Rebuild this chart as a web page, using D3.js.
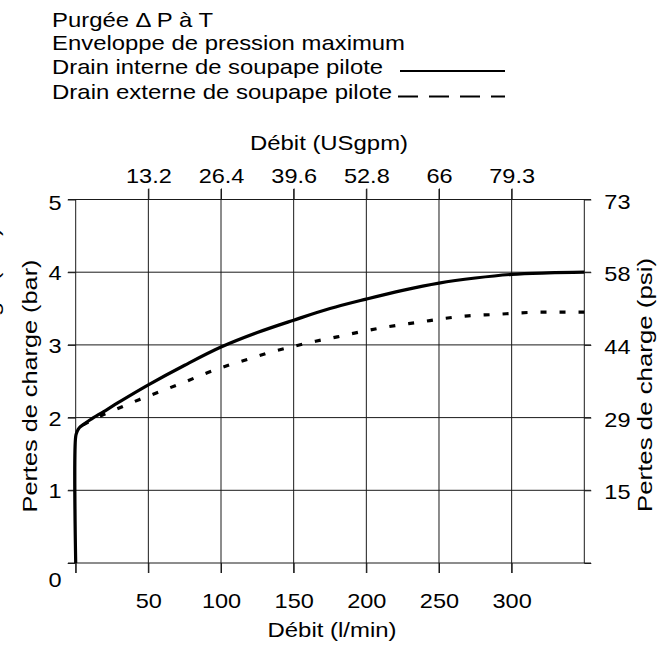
<!DOCTYPE html>
<html><head><meta charset="utf-8">
<script src="https://cdn.jsdelivr.net/npm/d3@7"></script>
<style>
body{margin:0;background:#fff}
svg{display:block}
text{font-family:"Liberation Sans",Arial,Helvetica,sans-serif;fill:#000}
</style>
</head><body>
<svg id="c" width="657" height="645"></svg>
<script>
// ---- data ----
const flowTicks = [0, 50, 100, 150, 200, 250, 300];
const flowLabels = ["", "50", "100", "150", "200", "250", "300"];
const gpmTicks = [50, 100, 150, 200, 250, 300];           // positions in l/min
const gpmLabels = ["13.2", "26.4", "39.6", "52.8", "66", "79.3"];
const barTicks = [0, 1, 2, 3, 4, 5];
const barLabels = ["0", "1", "2", "3", "4", "5"];
const psiLabels = ["", "15", "29", "44", "58", "73"];

const internalFlow = [0, 0, 1, 2.5, 5, 10, 19, 30, 50, 75, 100, 125, 150, 175, 200, 225, 250, 275, 300, 325, 350];
const internalBar  = [0, 1.74, 1.81, 1.86, 1.90, 1.97, 2.08, 2.215, 2.45, 2.72, 2.97, 3.17, 3.34, 3.50, 3.63, 3.75, 3.85, 3.92, 3.97, 3.99, 4.00];

const externalFlow = [5, 20, 32, 44, 57, 75, 91, 105, 118, 134, 150, 165, 180, 196, 212, 239, 252, 270, 290, 305, 321, 350];
const externalBar  = [1.90, 2.05, 2.15, 2.25, 2.35, 2.49, 2.62, 2.72, 2.80, 2.90, 2.98, 3.05, 3.11, 3.18, 3.24, 3.32, 3.36, 3.40, 3.42, 3.44, 3.45, 3.45];

const legendLabels = ["Purgée \u0394 P à T", "Enveloppe de pression maximum",
                      "Drain interne de soupape pilote", "Drain externe de soupape pilote"];
const legendWidths = [161, 353, 331, 340];

const xTitleBottom = "Débit (l/min)";
const xTitleTop = "Débit (USgpm)";
const yTitleLeft = "Pertes de charge (bar)";
const yTitleRight = "Pertes de charge (psi)";

// ---- setup ----
const svg = d3.select("#c");
const FS = 21, TICKSTRETCH = 1.12;
const x = d3.scaleLinear().domain([0, 350]).range([75.7, 584.3]);
const y = d3.scaleLinear().domain([0, 5]).range([563, 199.5]);

function fit(sel, target) {
  sel.each(function () {
    const w = this.getComputedTextLength();
    const tl = typeof target === "function" ? target(w) : target;
    d3.select(this).attr("textLength", tl).attr("lengthAdjust", "spacingAndGlyphs");
  });
}

// ---- grid ----
const grid = svg.append("g").attr("stroke", "#1a1a1a").attr("stroke-width", 1).attr("fill", "none");
grid.selectAll("line.v").data(gpmTicks).join("line")
  .attr("x1", d => x(d)).attr("x2", d => x(d)).attr("y1", 189).attr("y2", 573);
grid.append("line").attr("x1", x(0)).attr("x2", x(0)).attr("y1", y(5)).attr("y2", 573);
grid.append("line").attr("x1", x(350)).attr("x2", x(350)).attr("y1", y(5)).attr("y2", y(0));
grid.selectAll("line.h").data(barTicks).join("line")
  .attr("x1", 68).attr("x2", 591).attr("y1", d => y(d)).attr("y2", d => y(d));

// ---- axes ----
function styleAxis(g) {
  g.select(".domain").remove();
  g.selectAll(".tick line").attr("stroke", "#1a1a1a");
  g.attr("font-size", FS).attr("font-family", null);
  g.selectAll("text").attr("fill", "#000");
}
const gB = svg.append("g").attr("transform", `translate(0,${y(0)})`)
  .call(d3.axisBottom(x).tickValues(flowTicks).tickSize(10).tickPadding(0)
    .tickFormat((d, i) => flowLabels[i]));
styleAxis(gB);
gB.selectAll("text").attr("y", 45).attr("dy", null);

const gT = svg.append("g").attr("transform", `translate(0,${y(5)})`)
  .call(d3.axisTop(x).tickValues(gpmTicks).tickSize(11).tickPadding(0)
    .tickFormat((d, i) => gpmLabels[i]));
styleAxis(gT);
gT.selectAll("text").attr("y", -17).attr("dy", null);

const gL = svg.append("g").attr("transform", `translate(${x(0)},0)`)
  .call(d3.axisLeft(y).tickValues(barTicks).tickSize(8).tickPadding(0)
    .tickFormat((d, i) => barLabels[i]));
styleAxis(gL);
gL.selectAll("text").attr("x", -14).attr("dy", null)
  .attr("y", d => d === 0 ? 23 : (d === 5 ? 10 : 7.5));

const gR = svg.append("g").attr("transform", `translate(${x(350)},0)`)
  .call(d3.axisRight(y).tickValues(barTicks).tickSize(7).tickPadding(0)
    .tickFormat((d, i) => psiLabels[i]));
styleAxis(gR);
gR.selectAll("text").attr("x", 20).attr("dy", null).attr("y", 8.5);

[gB, gT, gL, gR].forEach(g => fit(g.selectAll("text").filter(function () { return this.textContent.length; }), w => w * TICKSTRETCH));

// ---- titles ----
const tB = svg.append("text").attr("x", 332).attr("y", 637).attr("text-anchor", "middle")
  .attr("font-size", FS).text(xTitleBottom);
fit(tB, 129);
const tT = svg.append("text").attr("x", 329).attr("y", 150).attr("text-anchor", "middle")
  .attr("font-size", FS).text(xTitleTop);
fit(tT, 158);
const tL = svg.append("text").attr("transform", "translate(37,386) rotate(-90)").attr("text-anchor", "middle")
  .attr("font-size", FS).text(yTitleLeft);
fit(tL, 253);
const tR = svg.append("text").attr("transform", "translate(652,385) rotate(-90)").attr("text-anchor", "middle")
  .attr("font-size", FS).text(yTitleRight);
fit(tR, 254);
// duplicate label mostly hidden beyond the left edge (only a sliver shows, as in the reference)
const tX = svg.append("text").attr("transform", "translate(-1,354) rotate(-90)").attr("text-anchor", "middle")
  .attr("font-size", FS).text(yTitleLeft);
fit(tX, 253);

// ---- curves ----
const intPts = internalFlow.map((f, i) => [f, internalBar[i]]);
const extPts = externalFlow.map((f, i) => [f, externalBar[i]]);
svg.append("path").datum(extPts)
  .attr("d", d3.line().x(d => x(d[0])).y(d => y(d[1])).curve(d3.curveMonotoneX))
  .attr("fill", "none").attr("stroke", "#000").attr("stroke-width", 3.2)
  .attr("stroke-dasharray", "6,13");
svg.append("path").datum(intPts)
  .attr("d", d3.line().x(d => x(d[0])).y(d => y(d[1])).curve(d3.curveCatmullRom.alpha(0.5)))
  .attr("fill", "none").attr("stroke", "#000").attr("stroke-width", 3.2)
  .attr("stroke-linejoin", "round");

// ---- legend ----
const legBase = [27.3, 50, 74, 99.3];
legendLabels.forEach((t, i) => {
  const el = svg.append("text").attr("x", 52).attr("y", legBase[i]).attr("font-size", FS).text(t);
  fit(el, legendWidths[i]);
});
svg.append("line").attr("x1", 400).attr("x2", 505).attr("y1", 71).attr("y2", 71)
  .attr("stroke", "#000").attr("stroke-width", 2);
svg.append("line").attr("x1", 398).attr("x2", 505).attr("y1", 96.5).attr("y2", 96.5)
  .attr("stroke", "#000").attr("stroke-width", 2).attr("stroke-dasharray", "20,11");
</script>
</body></html>
